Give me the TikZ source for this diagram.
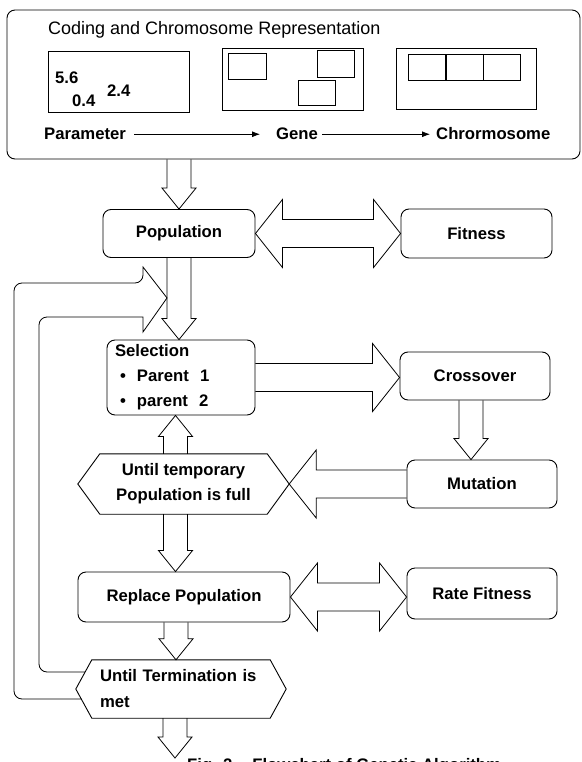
\documentclass[tikz,border=0pt]{standalone}
\usepackage{fontspec}
\setmainfont{Liberation Sans}
\usetikzlibrary{calc,arrows.meta}

\tikzset{
  lbl/.style={font=\bfseries\fontsize{16.7}{25}\selectfont},
  box/.style={draw, rounded corners=8pt, line width=0.9pt, lbl},
  hexnode/.style={lbl, align=center, inner sep=0pt},
  blkdown/.style={line width=0.8pt, to path={let \p1=(\tikztostart), \p2=(\tikztotarget) in
    (\x1-12pt,\y1) -- (\x1-12pt,\y2+21pt) -- (\x1-17pt,\y2+21pt) -- (\x1,\y2)
    -- (\x1+17pt,\y2+21pt) -- (\x1+12pt,\y2+21pt) -- (\x1+12pt,\y1)}},
  blkup/.style={line width=0.8pt, to path={let \p1=(\tikztostart), \p2=(\tikztotarget) in
    (\x1-12pt,\y1) -- (\x1-12pt,\y2-21pt) -- (\x1-17pt,\y2-21pt) -- (\x1,\y2)
    -- (\x1+17pt,\y2-21pt) -- (\x1+12pt,\y2-21pt) -- (\x1+12pt,\y1)}},
  blkright/.style={line width=0.8pt, to path={let \p1=(\tikztostart), \p2=(\tikztotarget) in
    (\x1,\y1+14pt) -- (\x2-27pt,\y1+14pt) -- (\x2-27pt,\y1+34pt) -- (\x2,\y1)
    -- (\x2-27pt,\y1-34pt) -- (\x2-27pt,\y1-14pt) -- (\x1,\y1-14pt)}},
  blkleft/.style={line width=0.8pt, to path={let \p1=(\tikztostart), \p2=(\tikztotarget) in
    (\x1,\y1+14pt) -- (\x2+27pt,\y1+14pt) -- (\x2+27pt,\y1+34pt) -- (\x2,\y1)
    -- (\x2+27pt,\y1-34pt) -- (\x2+27pt,\y1-14pt) -- (\x1,\y1-14pt)}},
  blkboth/.style={line width=0.8pt, to path={let \p1=(\tikztostart), \p2=(\tikztotarget) in
    (\x1,\y1) -- (\x1+27pt,\y1+34pt) -- (\x1+27pt,\y1+14pt) -- (\x2-27pt,\y1+14pt)
    -- (\x2-27pt,\y1+34pt) -- (\x2,\y1) -- (\x2-27pt,\y1-34pt) -- (\x2-27pt,\y1-14pt)
    -- (\x1+27pt,\y1-14pt) -- (\x1+27pt,\y1-34pt) -- (\x1,\y1)}}
}

\begin{document}
\begin{tikzpicture}[x=1pt, y=-1pt, >={Latex[length=8pt,width=6pt]}]
  \useasboundingbox (0,0) rectangle (581,762);
  % coding and chromosome representation
  \node[draw, rounded corners=8pt, line width=0.9pt, minimum width=573pt, minimum height=149pt] (code) at (293.5,84.5) {};
  \node[anchor=base west, inner sep=0pt, font=\fontsize{18}{22}\selectfont] (title) at (48,35) {Coding and Chromosome Representation};
  \node[draw, line width=0.9pt, minimum width=141pt, minimum height=61pt] (parbox) at (119,82) {};
  \node[lbl, anchor=base west, inner sep=0pt] (v1) at (55,84) {5.6};
  \node[lbl, anchor=base west, inner sep=0pt] (v2) at (72,107) {0.4};
  \node[lbl, anchor=base west, inner sep=0pt] (v3) at (107,97) {2.4};
  \node[draw, line width=0.9pt, minimum width=141pt, minimum height=62pt] (genebox) at (292.5,79) {};
  \draw[line width=0.9pt] (228,53) rectangle (266,79);
  \draw[line width=0.9pt] (317,50) rectangle (354,77);
  \draw[line width=0.9pt] (298,80) rectangle (335,105);
  \node[draw, line width=0.9pt, minimum width=140pt, minimum height=61pt] (chrombox) at (466,78.5) {};
  \foreach \x in {408,446,483}
    \draw[line width=0.9pt] (\x,54) rectangle ++(37,26);
  \node[lbl, anchor=base west, inner sep=0pt] (param) at (44,140) {Parameter};
  \node[lbl, anchor=base west, inner sep=0pt] (gene) at (276,140) {Gene};
  \node[lbl, anchor=base west, inner sep=0pt] (chrom) at (436,140) {Chrormosome};
  \draw[->, line width=0.8pt, shorten <=8pt, shorten >=16pt] (gene.west -| param.east) -- (gene.west);
  \draw[->, line width=0.8pt, shorten <=4pt, shorten >=6pt] (gene.east) -- (gene.east -| chrom.west);

  % main loop
  \node[box, minimum width=152pt, minimum height=48pt] (pop) at (179,233.5) {Population};
  \node[box, minimum width=151pt, minimum height=49pt] (fit) at (476.5,233.5) {Fitness};
  \node[box, minimum width=148pt, minimum height=75pt, text width=132pt, align=left, inner xsep=8pt] (sel) at (181,377.5)
    {Selection\\\hspace*{5pt}\makebox[17pt][l]{\textbullet}Parent\ \ 1\\\hspace*{5pt}\makebox[17pt][l]{\textbullet}parent\ \ 2};
  \node[box, minimum width=150pt, minimum height=48pt] (cross) at (475,376) {Crossover};
  \node[box, minimum width=150pt, minimum height=48pt] (mut) at (482,484) {Mutation};
  \node[hexnode, minimum width=167pt, minimum height=60pt] (tmp) at (183.5,484) {Until temporary\\Population is full};
  \draw[line width=0.9pt] (tmp.north west) -- (tmp.north east) -- ($(tmp.east)+(22,0)$) -- (tmp.south east)
    -- (tmp.south west) -- ($(tmp.west)+(-22,0)$) -- cycle;
  \coordinate (tmpR) at ($(tmp.east)+(22,0)$);
  \node[box, minimum width=212pt, minimum height=50pt] (rep) at (184,597) {Replace Population};
  \node[box, minimum width=150pt, minimum height=51pt] (rate) at (482,593.5) {Rate Fitness};
  \node[lbl, inner xsep=8pt, inner ysep=0pt, minimum width=178pt, minimum height=58pt, text width=162pt, align=left,
    font=\bfseries\fontsize{16.7}{26}\selectfont] (term) at (181,689) {Until Termination is\\met};
  \draw[line width=0.9pt] (term.north west) -- (term.north east) -- ($(term.east)+(16,0)$) -- (term.south east)
    -- (term.south west) -- ($(term.west)+(-16,0)$) -- cycle;
  \coordinate (out) at (175,758);

  % block arrows
  \draw[blkdown] (pop.north |- code.south) to (pop.north);
  \draw[blkboth] (pop.east) to (fit.west);
  \draw[blkdown] (pop.south) to (sel.north);
  \draw[blkright] (sel.east) to (cross.west);
  \draw[blkdown] ([xshift=-4pt]cross.south) to (mut.north);
  \draw[blkleft] (mut.west) to (tmpR);
  \draw[blkup] ([xshift=-8pt]tmp.north) to (sel.south);
  \draw[blkdown] ([xshift=-8pt]tmp.south) to (rep.north);
  \draw[blkboth] (rep.east) to (rate.west);
  \draw[blkdown] ([xshift=-8pt]rep.south) to (term.north);
  \draw[blkdown] ([xshift=-6pt]term.south) to (out);

  % feedback arrow
  \coordinate (looptip) at ($(pop.south)+(-12,40)$);
  \draw[line width=0.8pt] ($(term.west)+(-10.5,10)$) [rounded corners=8pt] -- (14,699) -- (14,283) -- (143,283)
    [sharp corners] -- (143,267) -- (looptip) -- (143,332) -- (143,317)
    [rounded corners=8pt] -- (39,317) -- (39,672) [sharp corners] -- ($(term.west)+(-6.6,-17)$);

  \node[lbl, anchor=north west, inner sep=0pt] (caption) at (187,758.5) {Fig. 2\hspace{20pt}Flowchart of Genetic Algorithm};
\end{tikzpicture}
\end{document}
